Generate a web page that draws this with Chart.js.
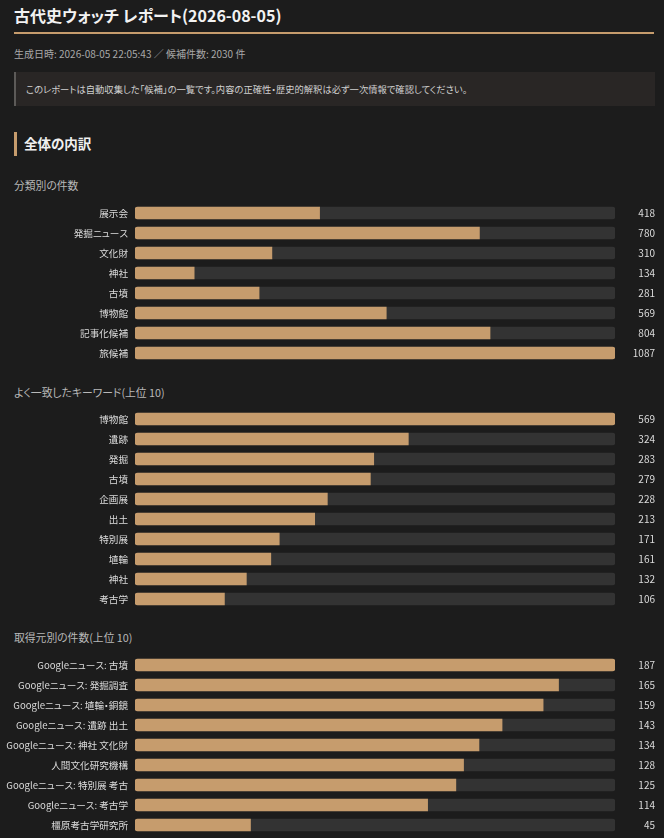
<!DOCTYPE html>
<html lang="ja">
<head>
<meta charset="utf-8">
<script src="https://cdn.jsdelivr.net/npm/chart.js@4.4.1/dist/chart.umd.min.js"></script>
<style>
html,body{margin:0;padding:0;background:#1c1c1c;width:664px;height:838px;overflow:hidden;font-family:"Noto Sans CJK JP","Noto Sans",sans-serif;font-feature-settings:"palt";}
.abs{position:absolute;}
#title{left:14px;top:4px;font-size:16px;font-weight:700;color:#f2f2f2;line-height:22px;white-space:nowrap;}
#rule{left:14px;top:32px;width:640px;height:2px;background:#c69c6d;}
#meta{left:14px;top:47px;font-size:10px;color:#a9a9a9;line-height:14px;white-space:nowrap;}
#note{left:14px;top:72px;width:639px;height:34px;background:#292625;border-left:2px solid #5c5a58;}
#note span{position:absolute;left:10px;top:10px;font-size:9.3px;line-height:14px;color:#d0d0d0;white-space:nowrap;}
#secbar{left:14px;top:132px;width:3px;height:24px;background:#c69c6d;}
#sec{left:24px;top:133px;font-size:13.5px;font-weight:700;color:#f0f0f0;line-height:20px;white-space:nowrap;}
.sub{left:14px;font-size:10.8px;color:#b8b8b8;line-height:14px;white-space:nowrap;}
.cw{left:0;width:664px;}
</style>
</head>
<body>
<div class="abs" id="title">古代史ウォッチ レポート(2026-08-05)</div>
<div class="abs" id="rule"></div>
<div class="abs" id="meta">生成日時: 2026-08-05 22:05:43 ／ 候補件数: 2030 件</div>
<div class="abs" id="note"><span>このレポートは自動収集した「候補」の一覧です。内容の正確性・歴史的解釈は必ず一次情報で確認してください。</span></div>
<div class="abs" id="secbar"></div>
<div class="abs" id="sec">全体の内訳</div>

<div class="abs sub" style="top:178px">分類別の件数</div>
<div class="abs cw" style="top:203px;height:160px"><canvas id="c1"></canvas></div>

<div class="abs sub" style="top:385px">よく一致したキーワード(上位 10)</div>
<div class="abs cw" style="top:409px;height:200px"><canvas id="c2"></canvas></div>

<div class="abs sub" style="top:630px">取得元別の件数(上位 10)</div>
<div class="abs cw" style="top:655px;height:180px"><canvas id="c3"></canvas></div>

<script>
const catLabels = ['展示会','発掘ニュース','文化財','神社','古墳','博物館','記事化候補','旅候補'];
const catValues = [418,780,310,134,281,569,804,1087];

const kwLabels = ['博物館','遺跡','発掘','古墳','企画展','出土','特別展','埴輪','神社','考古学'];
const kwValues = [569,324,283,279,228,213,171,161,132,106];

const srcLabels = ['Googleニュース: 古墳','Googleニュース: 発掘調査','Googleニュース: 埴輪・銅鏡','Googleニュース: 遺跡 出土','Googleニュース: 神社 文化財','人間文化研究機構','Googleニュース: 特別展 考古','Googleニュース: 考古学','橿原考古学研究所'];
const srcValues = [187,165,159,143,134,128,125,114,45];

const FILL = '#c69c6d', TRACK = '#333333', TEXT = '#dcdcdc';
const FONT = '"Noto Sans CJK JP","Noto Sans",sans-serif';

function makeChart(id, labels, values) {
  const max = Math.max(...values);
  const track = values.map(() => max);
  new Chart(document.getElementById(id), {
    type: 'bar',
    data: {
      labels: labels,
      datasets: [
        { data: values, backgroundColor: FILL, barThickness: 12, grouped: false, order: 0, borderSkipped: false,
          borderRadius: c => c.raw === max ? 3 : {topLeft: 3, bottomLeft: 3, topRight: 0, bottomRight: 0} },
        { data: track, backgroundColor: TRACK, barThickness: 12, grouped: false, order: 1, borderSkipped: false, borderRadius: 3 }
      ]
    },
    options: {
      indexAxis: 'y', responsive: true, maintainAspectRatio: false, animation: false,
      layout: { padding: { left: 0, right: 9, top: 0, bottom: 0 } },
      plugins: { legend: { display: false }, tooltip: { enabled: false } },
      scales: {
        x: { display: false, min: 0, max: max },
        y: { position: 'left', offset: true, grid: { display: false, drawTicks: false }, border: { display: false },
             ticks: { color: TEXT, font: { family: FONT, size: 9.6 }, padding: 7, autoSkip: false },
             afterFit(s) { s.width = 135; s.paddingTop = 0; s.paddingBottom = 0; } },
        y2: { type: 'category', position: 'right', labels: values.map(String), offset: true,
              grid: { display: false, drawTicks: false }, border: { display: false },
              ticks: { color: TEXT, font: { family: FONT, size: 10 }, crossAlign: 'far', autoSkip: false },
              afterFit(s) { s.width = 40; s.paddingTop = 0; s.paddingBottom = 0; } }
      }
    }
  });
}

makeChart('c1', catLabels, catValues);
makeChart('c2', kwLabels, kwValues);
makeChart('c3', srcLabels, srcValues);
</script>
</body>
</html>
